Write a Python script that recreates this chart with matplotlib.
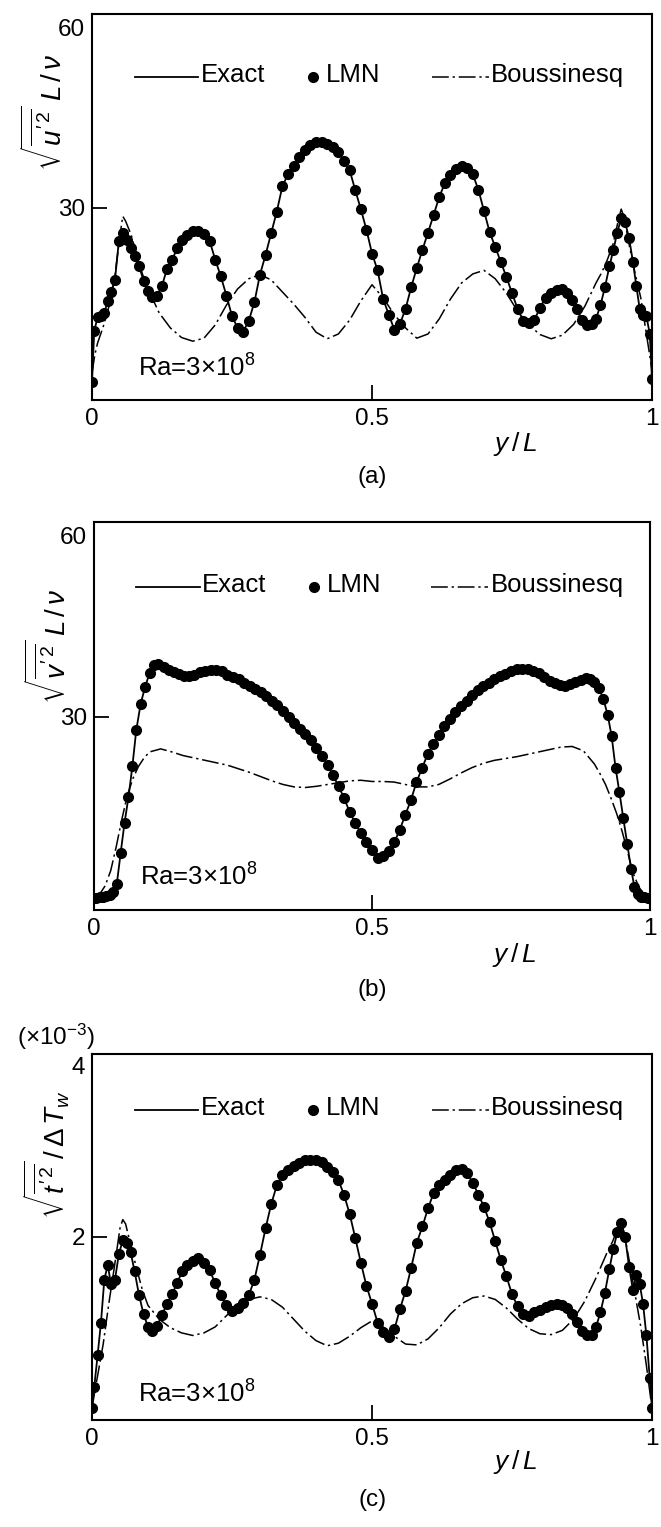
import matplotlib
matplotlib.use('Agg')
import matplotlib.pyplot as plt

plt.rcParams['font.family'] = ['Liberation Sans', 'DejaVu Sans']
plt.rcParams['mathtext.fontset'] = 'custom'
plt.rcParams['mathtext.rm'] = 'Liberation Sans'
plt.rcParams['mathtext.it'] = 'Liberation Sans:italic'
plt.rcParams['mathtext.bf'] = 'Liberation Sans:bold'
plt.rcParams['font.size'] = 17.5

# wall-normal positions of the DNS points (exact solution and LMN coincide)
y_dns = [0, 0.004, 0.010, 0.016, 0.022, 0.028, 0.034, 0.041, 0.048, 0.055,
         0.062, 0.069, 0.076, 0.084, 0.092, 0.100, 0.108, 0.116, 0.125, 0.134,
         0.143, 0.152, 0.161, 0.170, 0.180, 0.190, 0.200, 0.210, 0.220, 0.230,
         0.240, 0.250, 0.260, 0.270, 0.280, 0.290, 0.300, 0.310, 0.320, 0.330,
         0.340, 0.350, 0.360, 0.370, 0.380, 0.390, 0.400, 0.410, 0.420, 0.430,
         0.440, 0.450, 0.460, 0.470, 0.480, 0.490, 0.500,
         0.510, 0.520, 0.530, 0.540, 0.550, 0.560, 0.570, 0.580, 0.590, 0.600,
         0.610, 0.620, 0.630, 0.640, 0.650, 0.660, 0.670, 0.680, 0.690, 0.700,
         0.710, 0.720, 0.730, 0.740, 0.750, 0.760, 0.770, 0.780, 0.790, 0.800,
         0.810, 0.820, 0.830, 0.839, 0.848, 0.857, 0.866, 0.875, 0.884, 0.892,
         0.900, 0.908, 0.916, 0.924, 0.931, 0.938, 0.945, 0.952, 0.959, 0.966,
         0.972, 0.978, 0.984, 0.990, 0.996, 1.0]

u_exact = [1.0, 9.5, 11.8, 12.0, 12.5, 14.5, 16.0, 18.0, 24.5, 25.8,
           24.6, 23.3, 22.0, 20.3, 17.9, 16.2, 15.1, 15.4, 17.0, 19.9,
           21.3, 23.3, 24.6, 25.5, 26.1, 26.1, 25.6, 24.5, 21.4, 18.6,
           15.4, 12.0, 10.0, 9.4, 11.2, 14.3, 18.9, 22.2, 25.8, 29.4,
           33.6, 35.6, 36.9, 38.4, 39.6, 40.4, 40.9, 41.0, 40.7, 40.2,
           39.3, 37.8, 36.3, 33.0, 29.8, 26.4, 22.4,
           19.6, 14.8, 12.2, 9.7, 10.7, 13.2, 16.8, 20.0, 23.0, 25.9,
           28.8, 31.8, 34.1, 35.4, 36.4, 36.9, 36.7, 35.6, 33.0, 29.5,
           26.0, 23.5, 21.0, 18.5, 15.8, 13.2, 11.2, 10.8, 11.3, 13.4,
           15.0, 15.9, 16.4, 16.5, 15.8, 14.6, 13.2, 11.4, 10.5, 10.6,
           11.5, 13.8, 16.8, 20.3, 23.0, 25.9, 28.3, 27.6, 25.0, 21.0,
           17.0, 13.2, 12.2, 12.0, 9.0, 1.5]

v_exact = [0.0, 0.0, 0.1, 0.2, 0.3, 0.5, 1.0, 2.3, 7.5, 12.5,
           16.7, 21.8, 27.8, 32.2, 35.0, 37.3, 38.6, 38.8, 38.2, 37.8,
           37.4, 37.1, 36.8, 36.7, 37.0, 37.4, 37.6, 37.8, 37.8, 37.6,
           37.0, 36.6, 36.2, 35.7, 35.2, 34.7, 34.1, 33.4, 32.7, 31.9,
           30.9, 30.0, 29.0, 28.0, 27.1, 26.1, 24.9, 23.6, 22.1, 20.3,
           18.5, 16.5, 14.2, 12.4, 10.7, 9.3, 7.9,
           6.6, 6.9, 7.7, 9.2, 11.3, 13.8, 16.2, 19.2, 21.5, 23.8,
           25.5, 27.0, 28.5, 29.7, 30.8, 31.8, 32.7, 33.6, 34.5, 35.2,
           35.7, 36.2, 36.7, 37.1, 37.6, 37.9, 38.0, 37.9, 37.6, 37.2,
           36.6, 36.0, 35.6, 35.3, 35.2, 35.4, 35.8, 36.1, 36.4, 36.3,
           35.8, 34.8, 33.0, 30.3, 26.8, 21.6, 17.5, 13.2, 9.0, 4.8,
           1.8, 0.6, 0.2, 0.1, 0.0, 0.0]

t_exact = [0.0, 0.25, 0.62, 1.00, 1.50, 1.67, 1.45, 1.50, 1.80, 1.96,
           1.93, 1.82, 1.60, 1.32, 1.10, 0.95, 0.90, 0.96, 1.09, 1.22,
           1.33, 1.46, 1.60, 1.67, 1.72, 1.75, 1.70, 1.61, 1.46, 1.32,
           1.20, 1.14, 1.17, 1.23, 1.32, 1.50, 1.79, 2.10, 2.38, 2.60,
           2.72, 2.78, 2.82, 2.86, 2.89, 2.90, 2.89, 2.87, 2.81, 2.75,
           2.66, 2.49, 2.27, 1.99, 1.70, 1.43, 1.22,
           1.00, 0.89, 0.83, 0.92, 1.16, 1.37, 1.64, 1.93, 2.12, 2.33,
           2.51, 2.60, 2.66, 2.72, 2.78, 2.79, 2.74, 2.63, 2.49, 2.35,
           2.17, 1.95, 1.73, 1.54, 1.33, 1.19, 1.10, 1.08, 1.12, 1.15,
           1.18, 1.21, 1.22, 1.21, 1.17, 1.10, 1.01, 0.90, 0.86, 0.86,
           0.95, 1.12, 1.35, 1.63, 1.86, 2.05, 2.16, 2.00, 1.65, 1.38,
           1.55, 1.45, 1.22, 0.85, 0.35, 0.0]

# Boussinesq approximation
y_bq = [0, 0.005, 0.01, 0.02, 0.03, 0.04, 0.05, 0.055, 0.06, 0.07,
        0.08, 0.09, 0.10, 0.12, 0.14, 0.16, 0.18, 0.20, 0.22, 0.24,
        0.26, 0.28, 0.30, 0.32, 0.34, 0.36, 0.38, 0.40, 0.42, 0.44,
        0.46, 0.48, 0.50, 0.52, 0.54, 0.56, 0.58, 0.60, 0.62, 0.64,
        0.66, 0.68, 0.70, 0.72, 0.74, 0.76, 0.78, 0.80, 0.82, 0.84,
        0.86, 0.88, 0.90, 0.91, 0.92, 0.93, 0.94, 0.945, 0.95, 0.96,
        0.97, 0.98, 0.99, 0.995, 1.0]

u_bq = [2.5, 5.5, 7.5, 10.2, 13.5, 18.0, 25.5, 28.6, 27.8, 25.5,
        22.0, 19.0, 16.5, 12.5, 10.0, 8.4, 7.8, 8.3, 10.5, 13.8,
        16.5, 18.2, 18.9, 18.0, 16.0, 14.0, 11.8, 9.3, 8.2, 9.0,
        11.3, 14.5, 17.2, 15.0, 12.2, 10.0, 8.3, 9.0, 11.5, 14.8,
        17.5, 19.0, 19.6, 18.2, 15.8, 12.8, 10.5, 8.9, 8.2, 8.8,
        10.6, 13.6, 17.5, 19.2, 21.3, 23.8, 28.0, 29.8, 28.5, 23.5,
        19.0, 15.0, 9.0, 6.0, 3.0]

v_bq = [0.0, 0.2, 0.6, 2.0, 4.5, 8.5, 13.0, 15.0, 17.0, 19.8,
        21.8, 23.2, 24.2, 24.7, 24.2, 23.6, 23.2, 22.8, 22.4, 22.0,
        21.4, 20.8, 20.1, 19.4, 18.8, 18.4, 18.3, 18.5, 18.8, 19.1,
        19.4, 19.5, 19.3, 19.3, 19.2, 18.8, 18.4, 18.4, 18.8, 19.7,
        20.7, 21.6, 22.3, 22.8, 23.1, 23.4, 23.8, 24.2, 24.6, 25.0,
        25.1, 24.4, 22.2, 20.6, 18.8, 16.5, 14.0, 12.5, 11.0, 7.5,
        4.0, 1.8, 0.5, 0.2, 0.0]

t_bq = [0.0, 0.20, 0.38, 0.75, 1.22, 1.65, 2.10, 2.20, 2.15, 1.88,
        1.62, 1.38, 1.20, 1.04, 0.94, 0.88, 0.85, 0.88, 0.95, 1.08,
        1.20, 1.27, 1.30, 1.27, 1.18, 1.04, 0.90, 0.79, 0.73, 0.76,
        0.84, 0.94, 1.02, 0.95, 0.84, 0.75, 0.74, 0.81, 0.94, 1.10,
        1.22, 1.29, 1.31, 1.27, 1.17, 1.04, 0.93, 0.87, 0.86, 0.91,
        1.04, 1.25, 1.52, 1.67, 1.82, 1.95, 2.12, 2.17, 2.05, 1.70,
        1.32, 0.95, 0.50, 0.25, 0.0]

DASHDOT = (0, (11, 2.5, 1.5, 2.5))
KEY_FS = 18.5


def draw_panel(ax, exact, bq, ylim, yticks, ylabel, lab_pos, key_y, ra_y):
    ax.plot(y_bq, bq, color='k', lw=1.1, linestyle=DASHDOT)
    ax.plot(y_dns, exact, color='k', lw=1.3)
    ax.plot(y_dns, exact, 'o', color='k', ms=7, mec='k')

    ax.set_xlim(0, 1)
    ax.set_ylim(*ylim)
    ax.set_xticks([0, 0.5, 1])
    ax.set_xticklabels(['0', '0.5', '1'])
    ax.set_yticks(yticks)
    ax.set_yticklabels(['%g' % v for v in yticks])
    ax.tick_params(direction='in', length=11, width=1.3, pad=6)
    ax.tick_params(axis='y', pad=5)
    # only the interior ticks carry a mark
    for tk in ax.xaxis.get_major_ticks()[::2]:
        tk.tick1line.set_visible(False)
    ax.yaxis.get_major_ticks()[-1].tick1line.set_visible(False)
    for s in ax.spines.values():
        s.set_linewidth(1.5)

    ax.text(lab_pos[0], lab_pos[1], ylabel, rotation=90, ha='center',
            va='center', transform=ax.transAxes, fontsize=20)
    ax.text(0.756, -0.115, '$y\\,/\\,L$', ha='center', va='center',
            transform=ax.transAxes, fontsize=19)

    # key
    tr = ax.transAxes
    ax.plot([0.076, 0.19], [key_y, key_y], color='k', lw=1.3, transform=tr)
    ax.text(0.194, key_y - 0.014, 'Exact', transform=tr, va='baseline',
            fontsize=KEY_FS)
    ax.plot([0.395], [key_y], 'o', color='k', ms=7, transform=tr)
    ax.text(0.418, key_y - 0.014, 'LMN', transform=tr, va='baseline',
            fontsize=KEY_FS)
    ax.plot([0.607, 0.709], [key_y, key_y], color='k', lw=1.1,
            linestyle=DASHDOT, transform=tr)
    ax.text(0.713, key_y - 0.014, 'Boussinesq', transform=tr, va='baseline',
            fontsize=KEY_FS)

    ax.text(0.082, ra_y, 'Ra=3\u00d710$^{8}$', transform=tr, va='baseline',
            fontsize=KEY_FS)


fig = plt.figure(figsize=(6.61, 15.27), dpi=100)
W, H = 661.0, 1527.0

ax1 = fig.add_axes([92 / W, 1 - 400 / H, 560 / W, 386 / H])
draw_panel(ax1, u_exact, u_bq, (-2, 62.3), [30, 60],
           r'$\sqrt{\overline{u^{\prime\,2}}}\;L\,/\,\nu$', (-0.084, 0.744),
           0.838, 0.06)

ax2 = fig.add_axes([94 / W, 1 - 910 / H, 556 / W, 388 / H])
draw_panel(ax2, v_exact, v_bq, (-2, 62.3), [30, 60],
           r'$\sqrt{\overline{v^{\prime\,2}}}\;L\,/\,\nu$', (-0.08, 0.68),
           0.833, 0.064)

ax3 = fig.add_axes([92 / W, 1 - 1420 / H, 560 / W, 366 / H])
draw_panel(ax3, t_exact, t_bq, (-0.135, 4.13), [2, 4],
           r'$\sqrt{\overline{t^{\prime\,2}}}\,/\,\Delta\,T_w$', (-0.08, 0.724),
           0.847, 0.048)
ax3.text(0.005, 1.046, '(\u00d710$^{-3}$)', transform=ax3.transAxes,
         ha='right', va='center')

fig.text(0.563, 1 - 477 / H, '(a)', ha='center', va='center', fontsize=17.5)
fig.text(0.563, 1 - 990 / H, '(b)', ha='center', va='center', fontsize=17.5)
fig.text(0.563, 1 - 1500 / H, '(c)', ha='center', va='center', fontsize=17.5)

fig.savefig('out.png', dpi=100)
